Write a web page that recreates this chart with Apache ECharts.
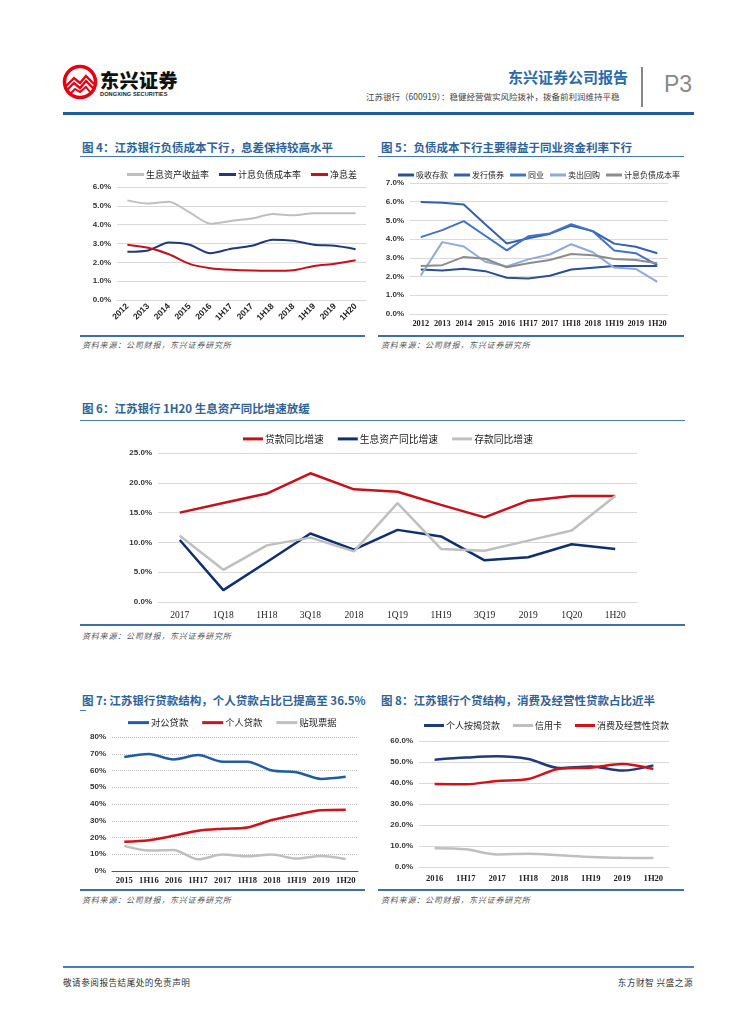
<!DOCTYPE html>
<html><head><meta charset="utf-8">
<script src="https://cdn.jsdelivr.net/npm/echarts/dist/echarts.min.js"></script>
<style>
html,body{margin:0;padding:0;background:#fff;}
#page{position:relative;width:755px;height:1024px;overflow:hidden;font-family:"Noto Sans CJK SC","Noto Sans",sans-serif;}
.abs{position:absolute;}
.ttl{position:absolute;font-size:11.5px;font-weight:bold;color:#2F6397;white-space:nowrap;letter-spacing:0px;}
.hl{position:absolute;height:1px;background:#4A78AE;}
.hl2{position:absolute;height:2px;background:#3E6FA8;}
.src{position:absolute;font-size:8px;letter-spacing:0.8px;color:#555;font-style:italic;white-space:nowrap;font-family:"Noto Sans CJK SC";}
.ch{position:absolute;}
</style></head>
<body><div id="page">
<!-- header -->
<svg class="abs" style="left:62px;top:64px" width="36" height="36" viewBox="0 0 36 36">
  <circle cx="18" cy="18" r="15.5" fill="#fff" stroke="#E60012" stroke-width="3.5"/>
  <path d="M4 22 L12 14 L18 19 L24 12 L32 20" fill="none" stroke="#E60012" stroke-width="2.4"/>
  <path d="M5 26 L12 19 L18 24 L24 17 L31 24" fill="none" stroke="#E60012" stroke-width="2.4"/>
  <path d="M8 30 L13 25 L18 28 L24 23 L28 28" fill="none" stroke="#E60012" stroke-width="2"/>
</svg>
<div class="abs" style="left:100px;top:66px;font-size:19px;font-weight:900;color:#111;letter-spacing:0.5px;">东兴证券</div>
<div class="abs" style="left:100px;top:91px;font-size:5.6px;font-weight:bold;color:#222;font-family:'Liberation Sans';letter-spacing:0.1px;">DONGXING SECURITIES</div>
<div class="abs" style="left:508px;top:66px;font-size:15px;font-weight:bold;color:#2A6BAA;">东兴证券公司报告</div>
<div class="abs" style="left:366px;top:90px;font-size:8.5px;color:#444;white-space:nowrap;">江苏银行（600919）：稳健经营做实风险拨补，拨备前利润维持平稳</div>
<div class="abs" style="left:641px;top:67px;width:1.5px;height:40px;background:#888;"></div>
<div class="abs" style="left:664px;top:71px;font-size:23px;color:#888;font-family:'Liberation Sans';">P3</div>
<div class="abs" style="left:63px;top:112px;width:631px;height:3px;background:#1F5C99;"></div>

<!-- chart 4 / 5 titles -->
<div class="ttl" style="left:82px;top:139px;">图 4：江苏银行负债成本下行，息差保持较高水平</div>
<div class="hl" style="left:80px;top:156px;width:285px;"></div>
<div class="ttl" style="left:381px;top:139px;">图 5：负债成本下行主要得益于同业资金利率下行</div>
<div class="hl" style="left:378px;top:156px;width:306px;"></div>
<div class="ch" id="c4" style="left:75px;top:160px;width:295px;height:175px;"></div>
<div class="ch" id="c5" style="left:372px;top:160px;width:312px;height:175px;"></div>
<div class="hl2" style="left:80px;top:335px;width:285px;"></div>
<div class="hl2" style="left:378px;top:335px;width:306px;"></div>
<div class="src" style="left:82px;top:339px;">资料来源：公司财报，东兴证券研究所</div>
<div class="src" style="left:381px;top:339px;">资料来源：公司财报，东兴证券研究所</div>

<!-- chart 6 -->
<div class="ttl" style="left:82px;top:400px;">图 6：江苏银行 1H20 生息资产同比增速放缓</div>
<div class="hl" style="left:80px;top:420px;width:605px;"></div>
<div class="ch" id="c6" style="left:75px;top:424px;width:610px;height:200px;"></div>
<div class="hl2" style="left:80px;top:624px;width:605px;"></div>
<div class="src" style="left:82px;top:630px;">资料来源：公司财报，东兴证券研究所</div>

<!-- chart 7 / 8 -->
<div class="ttl" style="left:82px;top:692px;">图 7: 江苏银行贷款结构，个人贷款占比已提高至 36.5%</div>
<div class="hl" style="left:80px;top:710px;width:6px;"></div>
<div class="ttl" style="left:381px;top:692px;">图 8：江苏银行个贷结构，消费及经营性贷款占比近半</div>
<div class="ch" id="c7" style="left:75px;top:710px;width:295px;height:178px;"></div>
<div class="ch" id="c8" style="left:372px;top:712px;width:312px;height:176px;"></div>
<div class="hl2" style="left:80px;top:889px;width:285px;"></div>
<div class="hl2" style="left:378px;top:889px;width:306px;"></div>
<div class="src" style="left:82px;top:894px;">资料来源：公司财报，东兴证券研究所</div>
<div class="src" style="left:381px;top:894px;">资料来源：公司财报，东兴证券研究所</div>

<!-- footer -->
<div class="abs" style="left:63px;top:966px;width:631px;height:2px;background:#4A7EBB;"></div>
<div class="abs" style="left:63px;top:976px;font-size:8.6px;letter-spacing:0.5px;color:#333;">敬请参阅报告结尾处的免责声明</div>
<div class="abs" style="right:62px;top:976px;font-size:8.6px;letter-spacing:0.5px;color:#333;">东方财智 兴盛之源</div>
</div>
<script>
// ---------- data ----------
const cats4 = ['2012','2013','2014','2015','2016','1H17','2017','1H18','2018','1H19','2019','1H20'];
const yield4 = [5.29,5.12,5.22,4.65,4.05,4.20,4.33,4.56,4.50,4.60,4.60,4.60];
const cost4  = [2.56,2.63,3.05,2.93,2.48,2.72,2.88,3.20,3.14,2.93,2.88,2.70];
const nim4   = [2.93,2.77,2.43,1.92,1.69,1.60,1.56,1.55,1.58,1.81,1.92,2.11];

const cats5 = ['2012','2013','2014','2015','2016','1H17','2017','1H18','2018','1H19','2019','1H20'];
const deposit5   = [2.38,2.33,2.42,2.29,1.94,1.90,2.04,2.38,2.47,2.56,2.56,2.56];
const bonds5     = [5.98,5.95,5.85,4.80,3.77,4.05,4.28,4.72,4.43,3.76,3.59,3.25];
const interbank5 = [4.11,4.48,4.96,4.18,3.40,4.15,4.30,4.80,4.42,3.39,3.25,2.61];
const repo5      = [2.06,3.84,3.61,2.79,2.54,2.92,3.18,3.73,3.30,2.48,2.41,1.72];
const cost5      = [2.57,2.61,3.05,2.95,2.50,2.71,2.89,3.21,3.14,2.94,2.88,2.71];

const cats6 = ['2017','1Q18','1H18','3Q18','2018','1Q19','1H19','3Q19','2019','1Q20','1H20'];
const loan6    = [15.0,16.6,18.2,21.6,18.9,18.5,16.3,14.2,17.0,17.8,17.8];
const asset6   = [10.4,2.0,6.7,11.5,8.8,12.1,11.0,7.0,7.5,9.7,8.9];
const deposit6 = [11.1,5.4,9.5,10.8,8.5,16.6,8.9,8.6,10.3,12.0,17.8];

const cats7 = ['2015','1H16','2016','1H17','2017','1H18','2018','1H19','2019','1H20'];
const corp7   = [68.0,69.8,66.6,69.2,65.2,65.2,60.0,59.0,55.0,56.2];
const retail7 = [17.4,18.4,21.0,24.0,25.2,26.0,30.4,33.6,36.2,36.5];
const bill7   = [15.0,12.2,12.6,7.0,9.8,8.8,9.8,7.4,9.0,7.2];

const cats8 = ['2016','1H17','2017','1H18','2018','1H19','2019','1H20'];
const mortgage8 = [51.1,52.1,52.7,51.4,47.1,47.9,45.9,48.4];
const card8     = [8.9,8.4,6.0,6.3,5.6,4.8,4.4,4.3];
const consumer8 = [39.5,39.4,41.0,41.9,46.8,47.3,49.0,46.7];

// ---------- helpers ----------
const CJK = '"Noto Sans CJK SC"';
function legend(names, opt, fs){
  return Object.assign({
    data:names, icon:'rect', itemWidth:20, itemHeight:3, itemGap:12, width:600,
    textStyle:{fontFamily:CJK, fontSize:fs||9, color:'#222', padding:[0,0,0,-3]}
  }, opt);
}
function line(name, data, color, w, smooth){
  return {name, type:'line', data, symbol:'none', smooth: smooth||false,
    lineStyle:{color, width:w}, itemStyle:{color}, animation:false};
}
function yAx(max, interval, fmt, grid){
  return {type:'value', min:0, max, interval,
    axisLabel:{formatter:fmt, fontFamily:'Liberation Sans', fontSize:8, fontWeight:'bold', color:'#333', margin:6},
    axisLine:{show:false}, axisTick:{show:false},
    splitLine:{lineStyle:Object.assign({color:'#D9D9D9', width:1}, grid||{})}};
}
function xAx(cats, lbl, axisColor){
  return {type:'category', data:cats, boundaryGap:true,
    axisLine:{show:true, lineStyle:{color:axisColor||'#D9D9D9'}}, axisTick:{show:false},
    axisLabel:Object.assign({fontSize:9, color:'#222', interval:0, margin:8}, lbl)};
}
const pct1 = v => v.toFixed(1)+'%';
const pct0 = v => v.toFixed(0)+'%';

// ---------- chart 4 ----------
echarts.init(document.getElementById('c4')).setOption({
  animation:false,
  legend: legend(['生息资产收益率','计息负债成本率','净息差'], {top:5, left:47, itemWidth:17, itemGap:10, width:260}, 9),
  grid:{left:42, right:4, top:27, bottom:35},
  xAxis: xAx(cats4, {rotate:45, fontFamily:'Liberation Sans', fontWeight:'bold', fontSize:8.5, margin:5}),
  yAxis: yAx(6, 1, pct1),
  series:[
    line('生息资产收益率', yield4, '#BFBFBF', 2, 0.25),
    line('计息负债成本率', cost4, '#1F3A78', 2, 0.25),
    line('净息差', nim4, '#C8101A', 2, 0.25)
  ]
});

// ---------- chart 5 ----------
echarts.init(document.getElementById('c5')).setOption({
  animation:false,
  legend: legend(['吸收存款','发行债券','同业','卖出回购','计息负债成本率'], {top:6, left:21, itemWidth:16, itemGap:6, width:300}, 8),
  grid:{left:38, right:16, top:23, bottom:21},
  xAxis: xAx(cats5, {fontFamily:'Liberation Serif', fontWeight:'bold', fontSize:8.3, margin:6}),
  yAxis: yAx(7, 1, pct1),
  series:[
    line('吸收存款', deposit5, '#2B4F93', 2),
    line('发行债券', bonds5, '#3460AE', 2),
    line('同业', interbank5, '#4472C4', 2),
    line('卖出回购', repo5, '#8EA9DB', 2),
    line('计息负债成本率', cost5, '#8C8C8C', 2)
  ]
});

// ---------- chart 6 ----------
echarts.init(document.getElementById('c6')).setOption({
  animation:false,
  legend: legend(['贷款同比增速','生息资产同比增速','存款同比增速'], {top:5, left:163, itemGap:14}, 9.8),
  grid:{left:83, right:48, top:29, bottom:22},
  xAxis: xAx(cats6, {fontFamily:'Liberation Serif', fontSize:9.5, margin:8}),
  yAxis: yAx(25, 5, pct1),
  series:[
    line('贷款同比增速', loan6, '#C8101A', 2.5),
    line('生息资产同比增速', asset6, '#0F2F6E', 2.5),
    line('存款同比增速', deposit6, '#BFBFBF', 2.5)
  ]
});

// ---------- chart 7 ----------
echarts.init(document.getElementById('c7')).setOption({
  animation:false,
  legend: legend(['对公贷款','个人贷款','贴现票据'], {top:3, left:48, itemWidth:21, itemGap:14, width:280}, 9.3),
  grid:{left:37, right:12, top:27, bottom:17},
  xAxis: xAx(cats7, {fontFamily:'Liberation Serif', fontWeight:'bold', fontSize:8.6, margin:5}, '#555'),
  yAxis: yAx(80, 10, pct0, {type:'dotted', color:'#BFBFBF'}),
  series:[
    line('对公贷款', corp7, '#1F5CA3', 2.5, 0.3),
    line('个人贷款', retail7, '#D0121B', 2.5, 0.3),
    line('贴现票据', bill7, '#BFBFBF', 2.5, 0.3)
  ]
});

// ---------- chart 8 ----------
echarts.init(document.getElementById('c8')).setOption({
  animation:false,
  legend: legend(['个人按揭贷款','信用卡','消费及经营性贷款'], {top:4, left:47, itemGap:13, width:290}, 9),
  grid:{left:47, right:15, top:29, bottom:21},
  xAxis: xAx(cats8, {fontFamily:'Liberation Serif', fontWeight:'bold', fontSize:8.6, margin:7}),
  yAxis: yAx(60, 10, pct1),
  series:[
    line('个人按揭贷款', mortgage8, '#1F3A7A', 2.5, 0.3),
    line('信用卡', card8, '#BFBFBF', 2.5, 0.3),
    line('消费及经营性贷款', consumer8, '#D0121B', 2.5, 0.3)
  ]
});
</script>
</body></html>
